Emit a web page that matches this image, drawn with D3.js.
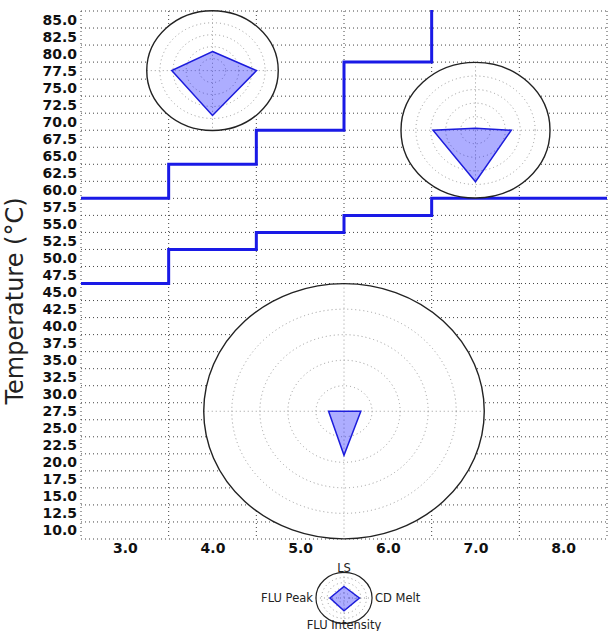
<!DOCTYPE html>
<html>
<head>
<meta charset="utf-8">
<script src="https://cdn.jsdelivr.net/npm/d3@7"></script>
<style>
  body { margin: 0; background: #fff; }
  text { font-family: "DejaVu Sans", sans-serif; }
</style>
</head>
<body>
<div id="chart"></div>
<script>
// categories on the x axis and temperature tick labels
let xTicks = [3.0, 4.0, 5.0, 6.0, 7.0, 8.0];
let yTicks = [10.0, 12.5, 15.0, 17.5, 20.0, 22.5, 25.0, 27.5, 30.0, 32.5, 35.0, 37.5, 40.0,
  42.5, 45.0, 47.5, 50.0, 52.5, 55.0, 57.5, 60.0, 62.5, 65.0, 67.5, 70.0, 72.5, 75.0,
  77.5, 80.0, 82.5, 85.0];

// step boundaries per category (upper goes off the top after 6.5)
let upperTemp = [58.75, 63.75, 68.75, 78.75, 95, 95];
let lowerTemp = [46.25, 51.25, 53.75, 56.25, 58.75, 58.75];

// radar glyphs: axes order LS, CD Melt, FLU Intensity, FLU Peak
let radarAxes = ["LS", "CD Melt", "FLU Intensity", "FLU Peak"];
let radarX = [4.0, 7.0, 5.5];
let radarY = [77.5, 68.75, 27.5];
let radarR = [0.75, 0.85, 1.6]; // radius in x units
let radarVals = [
  [0.32, 0.67, 0.75, 0.62],
  [0.03, 0.48, 0.76, 0.57],
  [0.0, 0.12, 0.345, 0.11]
];
let legendVals = [0.45, 0.55, 0.5, 0.5];

let width = 609, height = 631;
let margin = {top: 11, right: 2, bottom: 92, left: 81};

let svg = d3.select("#chart")
  .append("svg")
  .attr("width", width)
  .attr("height", height);

let x = d3.scaleLinear()
  .domain([2.5, 8.5])
  .range([margin.left, width - margin.right]);

let y = d3.scaleLinear()
  .domain([8.75, 86.25])
  .range([height - margin.bottom, margin.top]);

// grid sits on cell edges, half a step from the labels
let xGrid = d3.range(2.5, 8.51, 1);
let yGrid = d3.range(8.75, 86.3, 2.5);

let grid = svg.append("g")
  .attr("stroke", "#444")
  .attr("stroke-width", 1)
  .attr("stroke-dasharray", "1,3");

grid.selectAll(".gx").data(xGrid).enter()
  .append("line")
  .attr("x1", d => x(d)).attr("x2", d => x(d))
  .attr("y1", y(86.25)).attr("y2", y(8.75));

grid.selectAll(".gy").data(yGrid).enter()
  .append("line")
  .attr("y1", d => y(d)).attr("y2", d => y(d))
  .attr("x1", x(2.5)).attr("x2", x(8.5));

// axes
let yAxis = svg.append("g")
  .attr("transform", `translate(${margin.left}, 0)`)
  .call(d3.axisLeft(y).tickValues(yTicks).tickFormat(d3.format(".1f")).tickSize(0).tickPadding(4));
yAxis.select(".domain").remove();
yAxis.selectAll("text")
  .style("font-family", "DejaVu Sans")
  .style("font-size", "14px")
  .style("font-weight", "bold")
  .attr("fill", "#111");

let xAxis = svg.append("g")
  .attr("transform", `translate(0, ${height - margin.bottom})`)
  .call(d3.axisBottom(x).tickValues(xTicks).tickFormat(d3.format(".1f")).tickSize(0).tickPadding(4));
xAxis.select(".domain").remove();
xAxis.selectAll("text")
  .style("font-family", "DejaVu Sans")
  .style("font-size", "14px")
  .style("font-weight", "bold")
  .attr("fill", "#111");

svg.append("text")
  .attr("transform", `translate(23, 301) rotate(-90)`)
  .style("text-anchor", "middle")
  .style("font-size", "24px")
  .attr("fill", "#222")
  .text("Temperature (°C)");

// step lines
svg.append("clipPath").attr("id", "plotclip")
  .append("rect")
  .attr("x", x(2.5)).attr("y", y(86.25) - 1)
  .attr("width", width - x(2.5)).attr("height", y(8.75) - y(86.25) + 1);

function stepPoints(vals) {
  let pts = xTicks.map((c, i) => [c - 0.5, vals[i]]);
  pts.push([xTicks[xTicks.length - 1] + 0.5, vals[vals.length - 1]]);
  return pts;
}

let stepLine = d3.line()
  .x(d => x(d[0]))
  .y(d => y(d[1]))
  .curve(d3.curveStepAfter);

[upperTemp, lowerTemp].forEach(function(vals) {
  svg.append("path")
    .attr("clip-path", "url(#plotclip)")
    .attr("d", stepLine(stepPoints(vals)))
    .attr("fill", "none")
    .attr("stroke", "#1a1ae6")
    .attr("stroke-width", 3);
});

// radar glyph
let dirs = [[0, -1], [1, 0], [0, 1], [-1, 0]];

function drawRadar(g, cx, cy, rx, ry, vals, outline) {
  g.append("ellipse")
    .attr("cx", cx).attr("cy", cy).attr("rx", rx).attr("ry", ry)
    .attr("fill", "#fff").attr("stroke", "none");
  [0.2, 0.4, 0.6, 0.8].forEach(function(f) {
    g.append("ellipse")
      .attr("cx", cx).attr("cy", cy).attr("rx", rx * f).attr("ry", ry * f)
      .attr("fill", "none").attr("stroke", "#999")
      .attr("stroke-width", 1).attr("stroke-dasharray", "1,3");
  });
  g.append("line")
    .attr("x1", cx - rx).attr("x2", cx + rx).attr("y1", cy).attr("y2", cy)
    .attr("stroke", "#999").attr("stroke-dasharray", "1,3");
  g.append("line")
    .attr("x1", cx).attr("x2", cx).attr("y1", cy - ry).attr("y2", cy + ry)
    .attr("stroke", "#999").attr("stroke-dasharray", "1,3");
  let pts = vals.map((v, i) => [cx + dirs[i][0] * v * rx, cy + dirs[i][1] * v * ry]);
  g.append("path")
    .attr("d", d3.line()(pts) + "Z")
    .attr("fill", "rgba(0, 0, 255, 0.32)")
    .attr("stroke", "#1c1cdc")
    .attr("stroke-width", 1.5)
    .attr("stroke-linejoin", "miter");
  g.append("ellipse")
    .attr("cx", cx).attr("cy", cy).attr("rx", rx).attr("ry", ry)
    .attr("fill", "none").attr("stroke", "#222").attr("stroke-width", outline);
}

let radars = svg.append("g");
radarX.forEach(function(cx, i) {
  let px = x(cx), py = y(radarY[i]);
  let rx = x(cx + radarR[i]) - px;
  drawRadar(radars, px, py, rx, rx * 0.91, radarVals[i], 1.4);
});

// legend glyph under the axis
let lg = svg.append("g");
let lx = x(5.5), ly = 598, lrx = x(5.5 + 0.32) - x(5.5);
drawRadar(lg, lx, ly, lrx, lrx * 0.91, legendVals, 1.2);

let labelPos = [
  [lx, ly - lrx * 0.91, "middle"],
  [lx + lrx + 3, ly + 4, "start"],
  [lx, 629, "middle"],
  [lx - lrx - 3, ly + 4, "end"]
];
radarAxes.forEach(function(a, i) {
  lg.append("text")
    .attr("x", labelPos[i][0]).attr("y", labelPos[i][1])
    .style("text-anchor", labelPos[i][2])
    .style("font-size", "11.5px")
    .attr("fill", "#222")
    .text(a);
});
</script>
</body>
</html>
